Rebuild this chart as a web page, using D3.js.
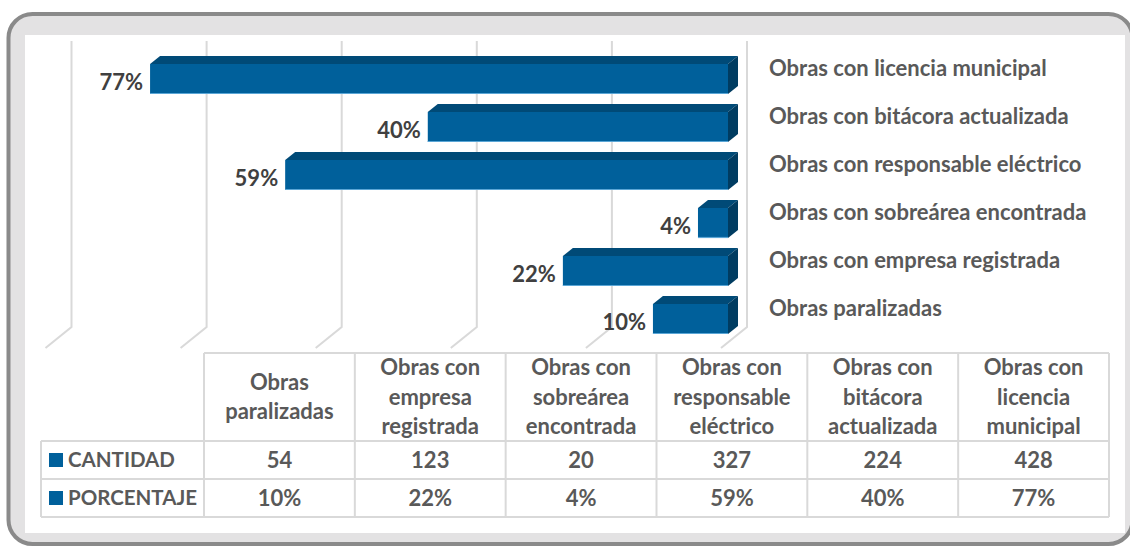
<!DOCTYPE html>
<meta charset="utf-8">
<head>
<script src="https://cdn.jsdelivr.net/npm/d3@7"></script>
<style>
  body { margin: 0; background: #fff; }
  text { font-family: Lato, "Open Sans", sans-serif; font-weight: bold; }
</style>
</head>
<body>
<div id="chart"></div>
<script>
// data
var categories = ["Obras paralizadas", "Obras con empresa registrada", "Obras con sobreárea encontrada",
                  "Obras con responsable eléctrico", "Obras con bitácora actualizada", "Obras con licencia municipal"];
var headerLines = [["Obras", "paralizadas"], ["Obras con", "empresa", "registrada"], ["Obras con", "sobreárea", "encontrada"],
                   ["Obras con", "responsable", "eléctrico"], ["Obras con", "bitácora", "actualizada"], ["Obras con", "licencia", "municipal"]];
var cantidad = [54, 123, 20, 327, 224, 428];
var porcentaje = [10, 22, 4, 59, 40, 77];
var gridTicks = [0, 18, 36, 54, 72, 90];
var rowNames = ["CANTIDAD", "PORCENTAJE"];

var W = 1130, H = 547;
var svg = d3.select("#chart").append("svg").attr("width", W).attr("height", H);

// frame
svg.append("rect").attr("x", 8.5).attr("y", 14).attr("width", 1124).attr("height", 530)
  .attr("rx", 24).attr("fill", "#e3e2e3").attr("stroke", "#8a8a8a").attr("stroke-width", 4);
svg.append("rect").attr("x", 25).attr("y", 35).attr("width", 1100).attr("height", 498).attr("fill", "#fff");

// scales (reversed: 0 at the right)
var x = d3.scaleLinear().domain([0, 90]).range([728, 52.5]);
var backShift = 19;
var y = d3.scaleBand().domain(categories).range([343, 55]).paddingInner(0.375).paddingOuter(0.1875);
var depth = [10, -8];

var textCol = "#595959";
var fs = "22px";

// gridlines on back wall + floor
var grid = svg.append("g");
grid.selectAll("path").data(gridTicks).enter().append("path")
  .attr("d", function(t) {
    var gx = x(t) + backShift;
    return "M" + gx + ",41 L" + gx + ",327 L" + (gx - 26) + ",348";
  })
  .attr("fill", "none").attr("stroke", "#d9d9d9").attr("stroke-width", 2);

// 3d bars
var bars = svg.append("g").selectAll("g").data(categories).enter().append("g");
bars.each(function(c, i) {
  var g = d3.select(this);
  var xl = x(porcentaje[i]), xr = x(0), yt = y(c), yb = y(c) + y.bandwidth();
  var dx = depth[0], dy = depth[1];
  g.append("path")
    .attr("d", "M" + xl + "," + yt + "L" + (xl + dx) + "," + (yt + dy) + "L" + (xr + dx) + "," + (yt + dy) + "L" + xr + "," + yt + "Z")
    .attr("fill", "#004a77");
  g.append("path")
    .attr("d", "M" + xr + "," + yt + "L" + (xr + dx) + "," + (yt + dy) + "L" + (xr + dx) + "," + (yb + dy) + "L" + xr + "," + yb + "Z")
    .attr("fill", "#003c61");
  g.append("rect").attr("x", xl).attr("y", yt).attr("width", xr - xl).attr("height", y.bandwidth())
    .attr("fill", "#00609b");
  g.append("line").attr("x1", xl).attr("x2", xr).attr("y1", yb - 0.5).attr("y2", yb - 0.5)
    .attr("stroke", "#5aa6d6").attr("stroke-width", 1.2);
  g.append("text").attr("x", xl - 7).attr("y", yt + y.bandwidth() / 2 + 3).attr("dy", "0.35em")
    .attr("text-anchor", "end").attr("fill", "#404040").style("font-size", fs)
    .text(porcentaje[i] + "%");
  // category label on the right
  g.append("text").attr("x", 769).attr("y", yt + y.bandwidth() / 2 - 11).attr("dy", "0.35em")
    .attr("fill", textCol).style("font-size", fs).text(c);
});

// data table
var col = d3.scaleBand().domain(categories).range([204, 1109]);
var tLeft = 41, hTop = 353, hBot = 441, rowH = 38;
var tbl = svg.append("g");
var lc = "#d9d9d9";
function hl(x1, x2, yy) {
  tbl.append("line").attr("x1", x1).attr("x2", x2).attr("y1", yy).attr("y2", yy).attr("stroke", lc).attr("stroke-width", 2);
}
function vl(xx, y1, y2) {
  tbl.append("line").attr("x1", xx).attr("x2", xx).attr("y1", y1).attr("y2", y2).attr("stroke", lc).attr("stroke-width", 2);
}
hl(col.range()[0], col.range()[1], hTop);
hl(tLeft, col.range()[1], hBot);
hl(tLeft, col.range()[1], hBot + rowH);
hl(tLeft, col.range()[1], hBot + 2 * rowH);
vl(tLeft, hBot, hBot + 2 * rowH);
categories.forEach(function(c) { vl(col(c), hTop, hBot + 2 * rowH); });
vl(col.range()[1], hTop, hBot + 2 * rowH);

categories.forEach(function(c, i) {
  var lines = headerLines[i];
  var cx = col(c) + col.bandwidth() / 2;
  var mid = (hTop + hBot) / 2;
  lines.forEach(function(l, k) {
    tbl.append("text").attr("x", cx).attr("y", mid + (k - (lines.length - 1) / 2) * 29.5).attr("dy", "0.35em")
      .attr("text-anchor", "middle").attr("fill", textCol).style("font-size", fs).text(l);
  });
  tbl.append("text").attr("x", cx).attr("y", hBot + rowH / 2).attr("dy", "0.35em")
    .attr("text-anchor", "middle").attr("fill", textCol).style("font-size", fs).text(cantidad[i]);
  tbl.append("text").attr("x", cx).attr("y", hBot + rowH * 1.5).attr("dy", "0.35em")
    .attr("text-anchor", "middle").attr("fill", textCol).style("font-size", fs).text(porcentaje[i] + "%");
});

rowNames.forEach(function(r, k) {
  var cy = hBot + rowH * (k + 0.5);
  tbl.append("rect").attr("x", 49).attr("y", cy - 7).attr("width", 14).attr("height", 14).attr("fill", "#00609b");
  tbl.append("text").attr("x", 68).attr("y", cy).attr("dy", "0.35em")
    .attr("fill", textCol).style("font-size", "20.5px").text(r);
});
</script>
</body>
